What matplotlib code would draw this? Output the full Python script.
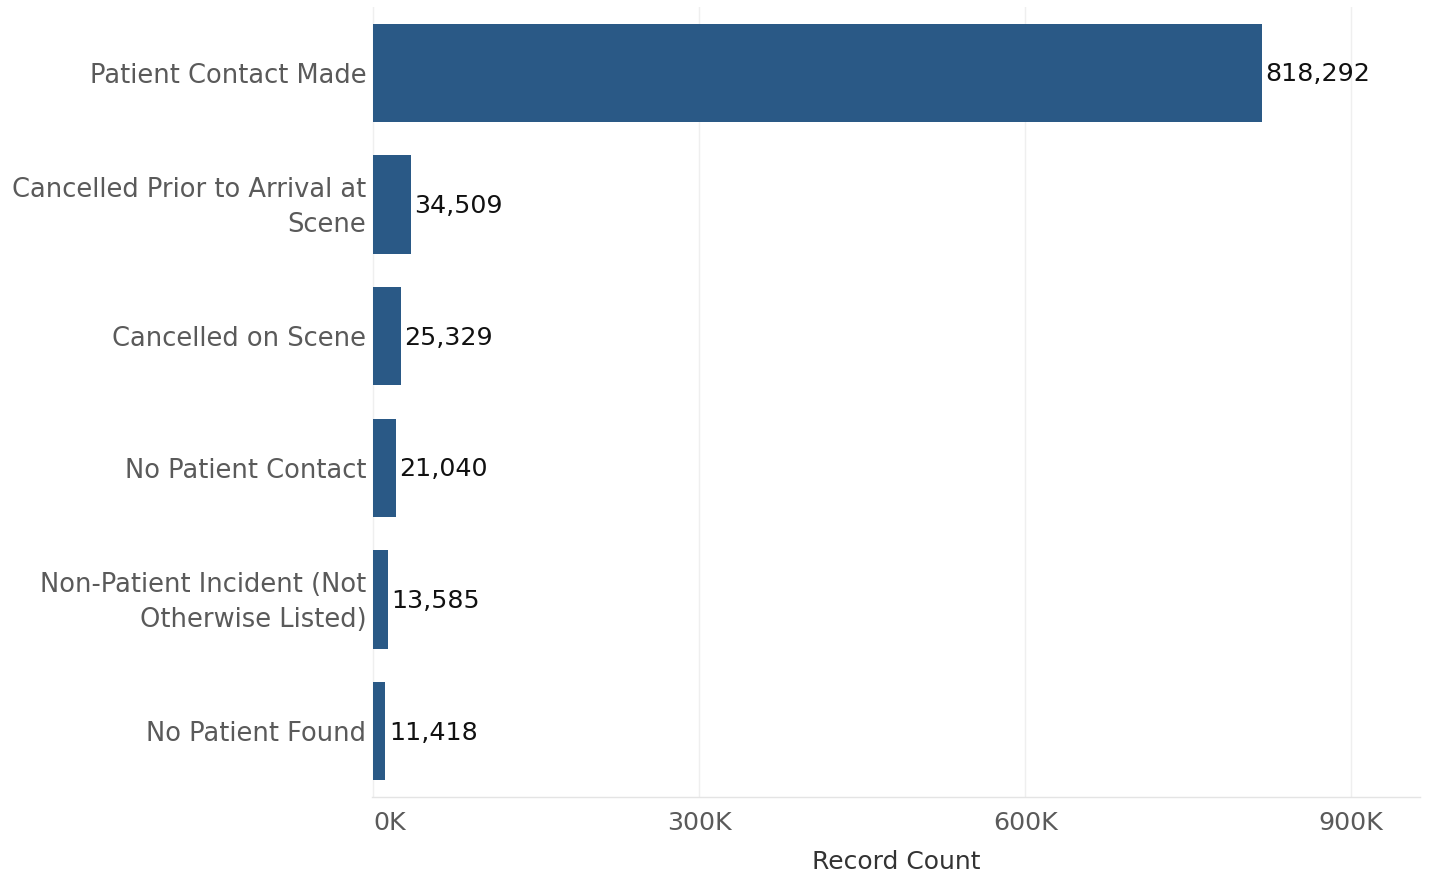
import matplotlib
matplotlib.use("Agg")
import matplotlib.pyplot as plt
from matplotlib.ticker import FuncFormatter
from matplotlib.transforms import ScaledTranslation

categories = [
    "Patient Contact Made",
    "Cancelled Prior to Arrival at\nScene",
    "Cancelled on Scene",
    "No Patient Contact",
    "Non-Patient Incident (Not\nOtherwise Listed)",
    "No Patient Found",
]
record_counts = [818292, 34509, 25329, 21040, 13585, 11418]
x_ticks = [0, 300000, 600000, 900000]

plt.rcParams["font.family"] = ["DejaVu Sans"]

fig = plt.figure(figsize=(14.32, 8.77), dpi=100)
ax = fig.add_axes([372 / 1432, 0.0912, (1420 - 372) / 1432, 0.9008])

y = list(range(len(categories)))
ax.barh(y, record_counts, height=0.745, color="#2a5986", zorder=2)

for yi, v in zip(y, record_counts):
    ax.text(v + 3000, yi + 0.01, f"{v:,}", va="center", ha="left",
            fontsize=18.3, color="#111111", zorder=3)

ax.set_ylim(len(categories) - 0.5, -0.5)
ax.set_xlim(-1000, 963300)
ax.set_yticks(y)
ax.set_yticklabels(categories, fontsize=18.5, color="#5a5a5a",
                   linespacing=1.45)
ax.set_xticks(x_ticks)
ax.xaxis.set_major_formatter(FuncFormatter(lambda v, p: f"{int(v/1000)}K"))
ax.tick_params(axis="x", labelsize=18.3, colors="#5a5a5a", length=0, pad=10)
ax.tick_params(axis="y", length=0, pad=4)

fig.canvas.draw()
# keep the first tick label inside the plot's left edge
ax.get_xticklabels()[0].set_horizontalalignment("left")

# nudge the two-line category labels up a little
nudge = ScaledTranslation(0, 0.045, fig.dpi_scale_trans)
for lbl in ax.get_yticklabels():
    if "\n" in lbl.get_text():
        lbl.set_transform(lbl.get_transform() + nudge)

ax.set_xlabel("Record Count", fontsize=18, color="#333333", labelpad=11)

ax.grid(axis="x", color="#efefef", linewidth=1, zorder=0)
for s in ["top", "right", "left"]:
    ax.spines[s].set_visible(False)
ax.spines["bottom"].set_color("#e4e4e4")
ax.spines["bottom"].set_linewidth(1)

fig.savefig("out.png", dpi=100, facecolor="white")
